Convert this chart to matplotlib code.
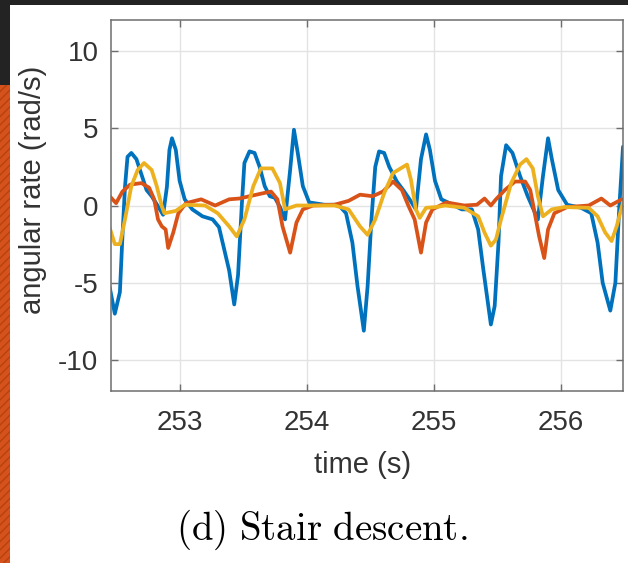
import matplotlib
matplotlib.use("Agg")
from matplotlib import pyplot as plt
from matplotlib.patches import Rectangle

# time (s) and angular rate (rad/s)
blue_t = [252.45, 252.49, 252.53, 252.55, 252.57, 252.59, 252.62, 252.66, 252.70, 252.74,
          252.78, 252.83, 252.87, 252.90, 252.92, 252.94, 252.97, 253.00, 253.04, 253.10,
          253.18, 253.26, 253.31, 253.35, 253.39, 253.43, 253.46, 253.49, 253.51, 253.55,
          253.59, 253.63, 253.67, 253.71, 253.75, 253.79, 253.83, 253.87, 253.90, 253.93,
          253.97, 254.02, 254.14, 254.25, 254.31, 254.36, 254.40, 254.45, 254.48, 254.51,
          254.54, 254.57, 254.61, 254.65, 254.71, 254.76, 254.81, 254.86, 254.90, 254.94,
          254.97, 255.01, 255.06, 255.15, 255.22, 255.30, 255.35, 255.39, 255.45, 255.48,
          255.51, 255.53, 255.57, 255.62, 255.68, 255.74, 255.82, 255.86, 255.90, 255.93,
          255.98, 256.05, 256.16, 256.24, 256.29, 256.33, 256.39, 256.43, 256.46, 256.49]
blue_v = [-5.3, -7.0, -5.6, -2.0, 1.2, 3.15, 3.4, 3.0, 2.0, 1.0,
          0.6, -0.05, -0.6, 1.2, 3.6, 4.35, 3.6, 1.6, 0.4, -0.25,
          -0.7, -0.9, -1.4, -2.8, -4.2, -6.4, -4.5, 0.1, 2.75, 3.5,
          3.4, 2.5, 1.25, 0.6, 0.5, -0.1, -0.9, 2.3, 4.9, 3.4,
          1.25, 0.2, 0.05, 0.05, -0.5, -2.4, -5.2, -8.1, -5.2, -0.9,
          2.5, 3.5, 3.4, 2.5, 1.55, 1.0, 0.4, -0.25, 3.0, 4.6,
          3.6, 1.6, 0.4, 0.05, -0.25, -0.25, -1.55, -4.1, -7.7, -6.5,
          -2.4, 1.9, 3.9, 3.4, 1.9, 0.6, -0.9, 1.9, 4.35, 3.0,
          1.0, 0.05, -0.15, -0.5, -2.4, -5.0, -6.8, -5.0, -0.25, 3.8]

orange_t = [252.45, 252.50, 252.55, 252.61, 252.70, 252.76, 252.80, 252.83, 252.86, 252.89,
            252.91, 252.95, 252.99, 253.05, 253.17, 253.28, 253.39, 253.47, 253.55, 253.66,
            253.72, 253.77, 253.81, 253.87, 253.92, 253.97, 254.05, 254.22, 254.33, 254.42,
            254.52, 254.60, 254.68, 254.75, 254.80, 254.85, 254.90, 254.94, 254.99, 255.10,
            255.24, 255.34, 255.40, 255.45, 255.49, 255.56, 255.64, 255.72, 255.76, 255.80,
            255.83, 255.87, 255.90, 255.95, 256.05, 256.22, 256.32, 256.39, 256.48]
orange_v = [0.6, 0.15, 0.9, 1.35, 1.45, 1.15, 0.4, -0.9, -1.35, -1.55,
            -2.75, -1.75, -0.5, 0.15, 0.4, 0.0, 0.4, 0.45, 0.6, 0.8,
            0.9, 0.4, -1.35, -3.05, -1.1, -0.25, 0.0, 0.05, 0.3, 0.7,
            0.6, 0.9, 1.55, 1.0, 0.0, -0.9, -3.05, -1.1, -0.25, 0.2,
            0.0, 0.05, 0.45, 0.0, 0.4, 1.0, 1.55, 1.55, 1.0, -0.7,
            -2.0, -3.4, -1.55, -0.5, -0.1, 0.0, 0.45, 0.0, 0.4]

yellow_t = [252.45, 252.49, 252.53, 252.57, 252.62, 252.67, 252.72, 252.78, 252.82, 252.86,
            252.88, 252.97, 253.04, 253.20, 253.30, 253.39, 253.45, 253.51, 253.58, 253.64,
            253.73, 253.79, 253.83, 253.92, 254.01, 254.22, 254.33, 254.42, 254.48, 254.54,
            254.61, 254.68, 254.79, 254.82, 254.86, 254.89, 254.94, 255.02, 255.09, 255.24,
            255.35, 255.40, 255.45, 255.49, 255.53, 255.61, 255.68, 255.73, 255.78, 255.82,
            255.86, 255.93, 256.03, 256.22, 256.29, 256.35, 256.40, 256.44, 256.49]
yellow_v = [-1.45, -2.5, -2.5, -0.9, 1.25, 2.3, 2.75, 2.3, 1.25, -0.05,
            -0.5, -0.35, 0.05, 0.0, -0.5, -1.35, -2.0, -0.9, 1.25, 2.4,
            2.4, 1.45, -0.25, 0.0, 0.0, 0.0, -0.25, -1.35, -1.9, -0.9,
            0.8, 2.1, 2.65, 1.7, -0.25, -0.8, -0.15, -0.1, 0.0, -0.15,
            -0.7, -1.75, -2.6, -2.2, -0.9, 1.45, 2.65, 3.0, 2.4, 0.6,
            -0.7, -0.25, -0.1, -0.15, -0.7, -1.75, -2.3, -1.35, 0.2]

x_ticks = [253, 254, 255, 256]
y_ticks = [-10, -5, 0, 5, 10]

plt.rcParams['font.family'] = ['Liberation Sans', 'DejaVu Sans']
plt.rcParams['mathtext.fontset'] = 'cm'
plt.rcParams['axes.unicode_minus'] = False

fig = plt.figure(figsize=(6.28, 5.63), dpi=100)
fig.patch.set_facecolor('white')

# screenshot frame: dark border on top/left and an orange strip
fig.patches.append(Rectangle((0, 1 - 5 / 563), 1, 5 / 563, transform=fig.transFigure,
                             facecolor='#232323', edgecolor='none'))
fig.patches.append(Rectangle((0, 0), 10 / 628, 1, transform=fig.transFigure,
                             facecolor='#232323', edgecolor='none'))
fig.patches.append(Rectangle((0, 0), 10 / 628, 1 - 85 / 563, transform=fig.transFigure,
                             facecolor='#d5521c', edgecolor='#b8420f', hatch='////',
                             linewidth=0))

ax = fig.add_axes([111 / 628, 1 - 391 / 563, 512 / 628, 371 / 563])
for t, v, c in [(blue_t, blue_v, '#0072BD'), (orange_t, orange_v, '#D95319'),
                (yellow_t, yellow_v, '#EDB120')]:
    ax.plot(t, v, color=c, linewidth=2.7, solid_joinstyle='round',
            solid_capstyle='round')

ax.set_xlim(252.46, 256.49)
ax.set_ylim(-12, 12)
ax.set_xticks(x_ticks)
ax.set_yticks(y_ticks)
ax.grid(True, color='#e3e3e3', linewidth=1)
ax.set_axisbelow(True)
for s in ax.spines.values():
    s.set_color('#6e6e6e')
    s.set_linewidth(1.1)
ax.tick_params(direction='in', top=True, right=True, length=5, width=1,
               color='#6e6e6e', labelsize=20, labelcolor='#333333')
ax.tick_params(axis='x', pad=14)
ax.tick_params(axis='y', pad=9)

ax.set_xlabel('time (s)', fontsize=21, color='#333333', va='center')
ax.xaxis.set_label_coords(0.492, -0.20)
ax.set_ylabel('angular rate (rad/s)', fontsize=21, color='#333333', va='center')
ax.yaxis.set_label_coords(-0.152, 0.542)

fig.text(0.512, 0.058, r'$\mathrm{(d)\ Stair\ descent.}$', fontsize=28,
         color='black', ha='center', va='center')

fig.savefig('out.png', dpi=100)
